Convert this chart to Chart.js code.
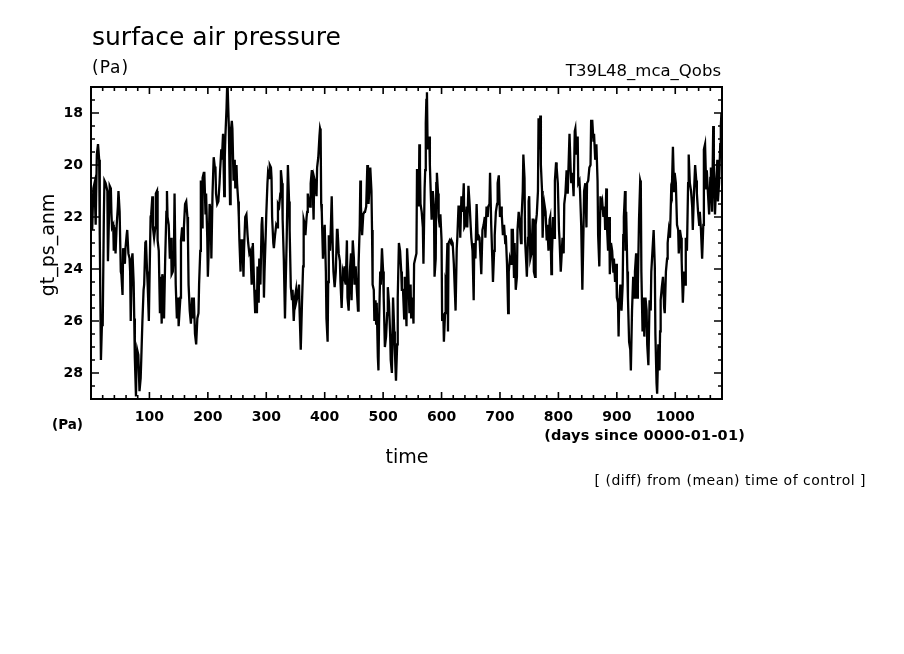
<!DOCTYPE html>
<html><head><meta charset="utf-8">
<script src="https://cdn.jsdelivr.net/npm/chart.js@4.4.1/dist/chart.umd.min.js"></script>
<style>html,body{margin:0;padding:0;background:#fff;}#wrap{width:904px;height:654px;position:relative;}</style>
</head><body><div id="wrap"><canvas id="c" width="904" height="654"></canvas></div>
<script>
// day index (days since 0000-01-01)
const days=[
0,2,4,6,8,10,12,14,15,17,
19,20,22,23,25,28,29,31,32,34,
35,36,38,39,41,42,44,46,47,49,
51,52,54,55,58,59,61,62,64,66,
67,68,70,71,73,74,75,77,78,79,
81,83,85,86,88,90,91,93,94,96,
97,99,100,102,103,105,106,108,110,111,
113,114,116,118,119,121,122,124,125,127,
129,130,131,133,135,137,138,140,142,143,
145,147,149,150,153,154,156,158,159,161,
163,165,166,167,169,171,173,174,176,178,
180,182,184,185,187,188,190,191,193,194,
196,197,199,200,201,203,205,206,208,210,
212,213,214,216,218,220,221,223,224,226,
228,229,230,232,233,234,236,237,238,239,
241,242,244,246,247,249,250,252,253,254,
256,257,259,261,262,264,266,268,269,271,
273,275,276,277,279,281,283,284,285,287,
288,290,292,293,295,296,297,299,300,302,
303,305,306,308,309,310,312,313,315,317,
319,320,322,324,325,327,328,330,332,333,
335,337,339,340,342,344,345,347,349,351,
352,354,356,357,359,361,363,364,366,367,
369,370,371,373,375,376,378,379,381,382,
384,386,387,389,391,392,393,394,395,397,
398,400,402,403,405,406,407,409,410,412,
414,415,417,419,421,422,424,426,427,429,
431,433,434,436,438,439,441,443,445,446,
448,450,451,453,455,457,458,460,461,462,
464,466,468,469,471,473,474,475,477,478,
480,481,482,484,485,487,488,489,491,492,
493,495,496,498,500,501,503,505,507,508,
510,512,513,515,517,519,520,522,524,525,
527,529,531,532,534,536,537,538,540,541,
543,545,547,548,550,552,553,555,557,558,
560,561,562,563,564,566,568,569,571,572,
573,574,575,576,577,579,580,581,583,585,
587,588,590,591,592,594,595,597,598,600,
601,603,604,606,607,608,610,611,612,614,
616,617,619,621,623,624,626,627,629,631,
632,634,636,638,639,641,643,644,646,648,
650,651,653,655,656,658,660,662,663,665,
667,668,670,672,674,675,677,679,680,682,
683,685,687,688,690,691,693,695,696,698,
700,702,703,705,707,709,710,712,714,715,
717,719,720,722,724,725,727,729,730,732,
734,736,737,739,740,742,743,745,746,748,
749,750,752,754,756,757,758,760,761,763,
765,766,768,769,770,772,773,774,776,778,
780,781,783,785,786,788,789,791,793,794,
796,797,799,801,802,804,805,807,809,810,
812,814,816,817,819,821,822,824,826,828,
829,831,833,834,836,837,839,841,843,844,
846,848,849,851,853,855,856,858,860,861,
863,865,867,868,870,872,873,875,877,879,
880,882,883,885,887,888,890,892,894,895,
897,899,900,902,903,904,906,908,910,911,
912,914,915,916,918,919,921,923,924,926,
928,930,931,933,935,936,938,940,941,942,
944,946,947,949,951,952,954,956,958,959,
961,963,965,966,968,969,971,973,974,975,
977,979,981,982,984,986,987,989,991,993,
994,996,998,999,1001,1003,1005,1006,1008,1010,
1011,1013,1015,1017,1018,1020,1022,1023,1025,1027,
1029,1030,1032,1034,1036,1037,1039,1041,1042,1044,
1046,1048,1049,1051,1053,1054,1056,1058,1060,1061,
1063,1065,1066,1068,1070,1072,1073,1075,1077,1078,
1079];
// gt_ps_anm (Pa)
const anom=[
21.5,22.5,20.9,20.7,22.3,19.6,19.2,19.8,22.7,27.5,
25.9,26.2,22.0,20.6,20.7,21.0,23.7,21.8,20.8,20.9,
21.9,22.4,22.3,23.3,22.4,23.4,22.3,21.6,21.0,21.8,
24.1,24.2,25.0,23.2,23.8,23.2,22.7,22.5,23.4,23.6,
24.1,26.0,23.6,23.4,24.5,25.9,27.4,28.9,27.5,27.1,
27.3,28.7,28.2,27.5,26.0,24.8,24.6,23.0,22.9,24.1,
24.6,26.0,24.6,22.0,21.9,21.2,22.4,22.8,22.4,21.1,
21.0,22.9,23.3,25.7,24.3,26.1,24.2,24.6,25.9,23.6,
21.8,21.0,22.0,22.3,23.6,22.8,24.2,24.1,23.3,21.1,
24.6,25.9,25.1,26.2,25.1,22.9,22.4,22.9,22.4,21.5,
21.4,22.0,22.9,24.6,25.6,26.1,25.1,25.9,25.1,26.5,
26.9,25.9,25.7,24.6,23.3,20.6,22.4,20.5,20.3,20.3,
21.9,21.1,22.8,24.3,23.6,21.5,21.8,23.6,21.1,19.7,
20.1,20.1,21.1,21.5,21.4,20.7,20.2,19.4,19.8,18.8,
21.2,19.7,18.9,17.8,17.0,17.1,18.6,20.1,21.5,18.8,
18.3,18.6,20.6,19.8,20.9,20.0,20.7,21.4,22.0,22.9,
24.1,22.9,22.9,24.3,23.2,22.0,21.9,22.7,23.0,23.4,
23.3,24.6,23.8,23.0,24.5,25.7,24.8,25.7,23.9,25.3,
23.6,24.6,22.3,22.0,23.3,25.1,24.1,22.7,21.9,20.7,
20.3,20.5,20.0,20.1,20.5,22.0,23.0,23.2,22.7,22.3,
22.4,21.5,21.6,21.1,20.2,20.7,22.1,23.6,25.9,24.8,
22.8,20.0,21.4,22.5,24.7,25.2,24.8,26.0,25.1,24.8,
25.2,25.0,24.6,25.6,27.1,25.4,23.9,22.1,22.3,22.7,
22.0,21.8,21.1,21.4,21.6,20.7,20.2,20.5,22.1,20.5,
20.7,21.2,20.1,19.7,18.9,18.6,18.7,21.5,21.8,23.6,
22.9,22.3,24.1,25.9,26.8,24.5,22.7,23.3,22.8,21.2,
23.4,24.1,24.7,24.1,22.5,22.5,23.4,23.7,24.5,25.5,
24.1,24.3,23.9,24.6,22.9,25.1,25.6,24.1,23.4,25.2,
22.9,23.6,24.6,23.9,24.8,25.6,23.8,22.3,20.6,21.6,
22.7,21.9,21.8,21.8,21.6,20.0,20.9,21.5,20.7,20.1,
21.0,22.5,24.6,24.8,26.0,25.2,26.1,25.3,27.4,27.9,
26.1,24.1,24.6,23.2,24.1,25.1,27.0,26.6,25.7,24.7,
25.3,26.5,27.5,28.0,25.1,26.4,27.1,28.3,26.9,25.1,
23.0,23.3,24.1,24.8,24.8,25.9,24.3,24.8,26.2,23.2,
24.1,25.7,24.6,25.9,25.1,26.1,23.8,23.6,23.4,20.2,
20.2,21.6,19.2,20.1,21.5,21.8,22.4,23.8,20.9,20.2,
18.4,17.5,17.2,19.1,19.4,18.9,20.0,20.7,22.1,21.0,
21.6,24.3,23.6,20.7,20.3,21.1,22.0,22.4,21.9,22.9,
26.0,25.7,26.8,25.7,24.5,24.6,23.0,26.4,23.0,22.9,
23.0,22.9,23.0,23.8,25.0,25.6,23.2,22.8,21.6,21.6,
22.8,21.2,21.8,20.7,22.4,22.3,21.6,22.4,20.8,21.5,
22.4,22.8,23.3,25.2,23.0,23.6,21.5,22.9,22.7,22.8,
23.7,24.2,22.5,22.3,22.0,22.8,21.6,22.0,21.6,21.5,
20.3,22.3,23.7,24.5,23.3,22.7,21.8,21.5,20.7,20.4,
22.0,21.6,21.9,22.7,22.3,23.0,22.7,23.8,25.7,24.1,
23.6,23.8,22.5,22.5,24.3,23.0,24.8,24.3,22.5,21.8,
22.3,23.0,22.0,21.0,19.6,20.5,22.9,23.8,24.3,22.8,
21.4,21.2,23.6,23.4,22.1,22.1,24.1,24.3,22.3,21.9,
21.0,18.2,19.4,18.1,20.0,21.0,22.8,22.0,21.5,21.8,
22.9,22.3,23.3,22.1,22.0,24.2,23.4,22.0,22.8,20.6,
19.9,20.1,20.7,22.5,22.9,24.1,23.7,22.8,23.4,21.5,
21.1,20.2,21.1,20.3,18.8,20.2,20.7,20.3,21.2,18.7,
18.6,19.6,18.9,20.7,20.6,21.0,22.3,24.8,22.4,21.0,
20.7,22.4,20.7,20.6,20.1,20.0,18.3,18.3,19.1,18.8,
19.8,19.2,20.6,22.7,23.9,21.2,21.6,21.4,22.0,21.6,
22.5,20.9,22.3,23.3,22.0,24.2,23.0,23.3,24.1,23.6,
24.5,23.8,25.1,25.3,26.6,25.3,24.6,25.6,24.6,22.7,
22.0,21.0,23.3,21.8,24.1,25.1,26.8,27.1,27.9,25.6,
24.3,25.1,24.1,23.4,25.1,24.6,22.1,20.6,20.7,24.1,
26.4,25.1,26.6,25.1,25.6,26.9,27.7,25.2,25.6,24.1,
23.3,22.5,23.9,26.5,28.4,28.8,26.9,27.9,26.4,25.2,
24.7,24.3,25.5,25.7,24.1,23.6,23.0,22.5,22.8,21.0,
21.1,19.3,21.0,20.3,20.7,22.3,22.5,23.4,22.5,22.8,
23.7,25.3,24.1,24.6,22.8,23.3,20.7,19.6,20.7,21.0,
21.6,22.5,21.1,20.0,20.6,21.1,21.8,22.3,21.8,22.5,
23.6,22.3,19.4,19.2,20.9,20.2,21.1,21.9,20.5,20.1,
21.8,18.5,20.1,21.9,20.7,19.8,21.4,20.7,19.2,18.5,
18.0];

const xTickValues=[100,200,300,400,500,600,700,800,900,1000];
const yTickValues=[18,20,22,24,26,28];
const xMinorStep=20, yMinorStep=0.5;
const xRange=[0,1080], yRange=[17,29];

const FONT='"DejaVu Sans", sans-serif';
const pts=[];
for(let i=0;i<Math.min(days.length,anom.length);i++) pts.push({x:days[i],y:anom[i]});

function txt(ctx,s,x,y,font,align,base,spacing){
  ctx.font=font;ctx.textAlign=align;ctx.textBaseline=base;
  try{ctx.letterSpacing=spacing||'0px';}catch(e){}
  ctx.fillText(s,x,y);
}

const framePlugin={
  id:'frame',
  afterDraw(chart){
    const {ctx,chartArea:a,scales:{x,y}}=chart;
    ctx.save();
    ctx.strokeStyle='#000';
    ctx.lineWidth=2;
    ctx.strokeRect(a.left,a.top,a.right-a.left,a.bottom-a.top);
    ctx.lineWidth=1.6;
    ctx.beginPath();
    for(let v=xRange[0]+xMinorStep;v<xRange[1];v+=xMinorStep){
      const px=x.getPixelForValue(v);
      const L=(v%100===0)?7:4;
      ctx.moveTo(px,a.bottom);ctx.lineTo(px,a.bottom-L);
      ctx.moveTo(px,a.top);ctx.lineTo(px,a.top+L);
    }
    for(let v=yRange[0]+yMinorStep;v<yRange[1];v+=yMinorStep){
      const py=y.getPixelForValue(v);
      const L=(v%2===0)?8:4;
      ctx.moveTo(a.left,py);ctx.lineTo(a.left+L,py);
      ctx.moveTo(a.right,py);ctx.lineTo(a.right-L,py);
    }
    ctx.stroke();
    ctx.fillStyle='#000';
    txt(ctx,'surface air pressure',92,44.5,'25px '+FONT,'left','alphabetic');
    txt(ctx,'(Pa)',92,73,'17px '+FONT,'left','alphabetic','1px');
    txt(ctx,'T39L48_mca_Qobs',721,76,'16.5px '+FONT,'right','alphabetic');
    txt(ctx,'(Pa)',52,425,'bold 13.5px '+FONT,'left','middle');
    txt(ctx,'(days since 0000-01-01)',745,436,'bold 14.5px '+FONT,'right','middle','0.2px');
    txt(ctx,'time',407,458,'19px '+FONT,'center','middle');
    txt(ctx,'[ (diff) from (mean) time of control ]',866,481,'14px '+FONT,'right','middle','0.5px');
    ctx.translate(49,245);
    ctx.rotate(-Math.PI/2);
    txt(ctx,'gt_ps_anm',0,0,'19px '+FONT,'center','middle');
    ctx.restore();
  }
};

new Chart(document.getElementById('c'),{
  type:'line',
  data:{datasets:[{data:pts,borderColor:'#000',borderWidth:2.3,pointRadius:0,tension:0,fill:false}]},
  options:{
    responsive:false,animation:false,devicePixelRatio:1,
    layout:{padding:{top:87,right:182,bottom:0,left:0}},
    plugins:{legend:{display:false},tooltip:{enabled:false},title:{display:false}},
    scales:{
      x:{type:'linear',min:xRange[0],max:xRange[1],
        grid:{display:false,drawTicks:false},border:{display:false},
        ticks:{color:'#000',font:{family:FONT,size:14,weight:'bold'},padding:10,maxRotation:0,autoSkip:false,
          callback:v=>String(v)},
        afterBuildTicks:s=>{s.ticks=xTickValues.map(v=>({value:v}));},
        afterFit:s=>{s.height=255;}},
      y:{type:'linear',reverse:true,min:yRange[0],max:yRange[1],
        grid:{display:false,drawTicks:false},border:{display:false},
        ticks:{color:'#000',font:{family:FONT,size:14,weight:'bold'},padding:8,callback:v=>String(v)},
        afterBuildTicks:s=>{s.ticks=yTickValues.map(v=>({value:v}));},
        afterFit:s=>{s.width=91;}}
    }
  },
  plugins:[framePlugin]
});
</script></body></html>
